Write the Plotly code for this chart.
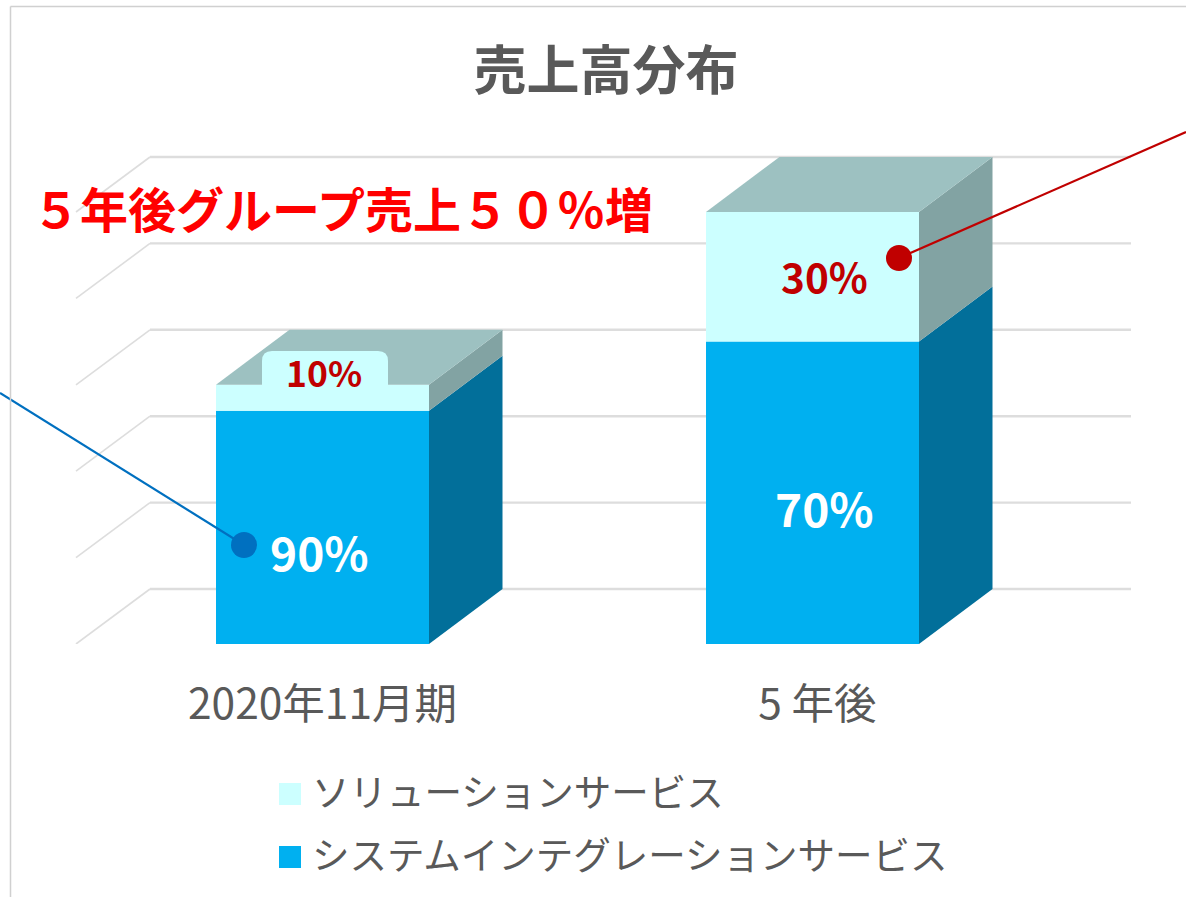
import plotly.graph_objects as go

# ---- data ----
categories = ["2020年11月期", "5 年後"]
tick_positions = [0, 1]
tick_label_positions = [0, 1.01]
series_names = ["システムインテグレーションサービス", "ソリューションサービス"]
system_values = [270, 350]
solution_values = [30, 150]
system_labels = ["90%", "70%"]
solution_labels = ["10%", "30%"]
grid_values = [0, 100, 200, 300, 400, 500]
title_text = "売上高分布"
headline_text = "５年後グループ売上５０％増"

# ---- geometry of the page ----
W, H = 1186, 897
BASE_PX = 644
PX_PER_UNIT = 0.864
PX_PER_CAT = 490
ZERO_X_PX = 322.5
BAR_W = 213 / PX_PER_CAT
DEPTH_X = 73.5 / PX_PER_CAT
DEPTH_Y = 55 / PX_PER_UNIT

def dx(px):
    return (px - ZERO_X_PX) / PX_PER_CAT

def dy(py):
    return (BASE_PX - py) / PX_PER_UNIT

def pxx(px):
    return px / W

def pxy(py):
    return 1 - py / BASE_PX

FONT = "Noto Sans CJK JP"
GREY = "#595959"
COL_SYS, COL_SYS_SIDE = "#00B0F0", "#026F9A"
COL_SOL, COL_SOL_SIDE, COL_SOL_TOP = "#CCFFFF", "#82A3A3", "#9DC1C1"
DARK_RED, BLUE_LINE = "#C00000", "#0070C0"
GRID = "#DDDDDD"

fig = go.Figure()

# front faces
fig.add_bar(x=tick_positions, y=system_values, width=BAR_W, name=series_names[0],
            marker=dict(color=COL_SYS, line_width=0), showlegend=False)
fig.add_bar(x=tick_positions, y=solution_values, base=system_values, width=BAR_W, name=series_names[1],
            marker=dict(color=COL_SOL, line_width=0), showlegend=False)

# side and top faces, derived from the same values
def poly(xs, ys, color):
    fig.add_scatter(x=xs, y=ys, mode="lines", fill="toself", fillcolor=color,
                    line=dict(width=0, color=color), hoverinfo="skip", showlegend=False)

for i, c in enumerate(tick_positions):
    r = c + BAR_W / 2
    l = c - BAR_W / 2
    s = system_values[i]
    t = s + solution_values[i]
    poly([r, r + DEPTH_X, r + DEPTH_X, r, r], [0, DEPTH_Y, s + DEPTH_Y, s, 0], COL_SYS_SIDE)
    poly([r, r + DEPTH_X, r + DEPTH_X, r, r], [s, s + DEPTH_Y, t + DEPTH_Y, t, s], COL_SOL_SIDE)
    poly([l, r, r + DEPTH_X, l + DEPTH_X, l], [t, t, t + DEPTH_Y, t + DEPTH_Y, t], COL_SOL_TOP)

# leader lines with dots
def leader(x_px, y_px, color):
    fig.add_scatter(x=[dx(v) for v in x_px], y=[dy(v) for v in y_px], mode="lines", cliponaxis=False,
                    line=dict(color=color, width=2.2), hoverinfo="skip", showlegend=False)
    fig.add_scatter(x=[dx(x_px[0])], y=[dy(y_px[0])], mode="markers", cliponaxis=False,
                    marker=dict(color=color, size=26, opacity=1, line_width=0),
                    hoverinfo="skip", showlegend=False)

leader([899, 1186], [258, 132], DARK_RED)
leader([244, 0], [545, 393], BLUE_LINE)

shapes = []
# floor-and-wall gridlines
GL, GM, GR = dx(76), dx(150), dx(1131)
for v in grid_values:
    shapes.append(dict(type="line", layer="below", xref="x", yref="y", x0=GL, x1=GM, y0=v, y1=v + DEPTH_Y,
                       line=dict(color=GRID, width=1.6)))
    shapes.append(dict(type="line", layer="below", xref="x", yref="y", x0=GM, x1=GR, y0=v + DEPTH_Y, y1=v + DEPTH_Y,
                       line=dict(color=GRID, width=2.4)))

# callout behind the 10% label
a, b, top, bot = dx(262), dx(388), dy(351), dy(386)
rx, ry = 10 / PX_PER_CAT, 10 / PX_PER_UNIT
shapes.append(dict(type="path", layer="above", xref="x", yref="y", line_width=0, fillcolor=COL_SOL,
                   path=f"M{a},{bot} L{a},{top-ry} Q{a},{top} {a+rx},{top} L{b-rx},{top} Q{b},{top} {b},{top-ry} L{b},{bot} Z"))

# chart frame
shapes.append(dict(type="line", xref="paper", yref="paper", x0=pxx(10.5), x1=pxx(10.5), y0=pxy(6.5), y1=pxy(897),
                   line=dict(color="#D0D0D0", width=1.5)))
shapes.append(dict(type="line", xref="paper", yref="paper", x0=pxx(10.5), x1=pxx(1186), y0=pxy(6.5), y1=pxy(6.5),
                   line=dict(color="#D0D0D0", width=1.5)))

# legend swatches
legend_rows = [(series_names[1], COL_SOL, 794), (series_names[0], COL_SYS, 857)]
annotations = []
for name, color, yc in legend_rows:
    shapes.append(dict(type="rect", xref="paper", yref="paper", line_width=0, fillcolor=color,
                       x0=pxx(279), x1=pxx(301), y0=pxy(yc + 11), y1=pxy(yc - 11)))
    annotations.append(dict(x=pxx(310), y=pxy(yc - 5), xref="paper", yref="paper", text=name, showarrow=False,
                            xanchor="left", yanchor="middle", font=dict(family=FONT, size=37.5, color=GREY)))

annotations.append(dict(x=pxx(342), y=pxy(207), xref="paper", yref="paper", text=headline_text, showarrow=False,
                        xanchor="center", yanchor="middle",
                        font=dict(family=FONT, size=48, color="#FF0000", weight="bold")))

# data labels
def label(px, py, text, size, color):
    annotations.append(dict(x=dx(px), y=dy(py), xref="x", yref="y", text=text, showarrow=False,
                            xanchor="center", yanchor="middle",
                            font=dict(family=FONT, size=size, color=color, weight="bold")))

label(319, 551, system_labels[0], 46, "#FFFFFF")
label(824.5, 507, system_labels[1], 46, "#FFFFFF")
label(324, 371, solution_labels[0], 35.5, DARK_RED)
label(824, 275, solution_labels[1], 40.5, DARK_RED)

fig.update_layout(
    width=W, height=H, margin=dict(l=0, r=0, t=0, b=H - BASE_PX, pad=0),
    paper_bgcolor="#FFFFFF", plot_bgcolor="rgba(0,0,0,0)",
    barmode="overlay", showlegend=False, shapes=shapes, annotations=annotations,
    title=dict(text=title_text, x=606 / W, y=1 - 71 / H, xanchor="center", yanchor="middle",
               font=dict(family=FONT, size=53, color=GREY, weight="bold")),
    xaxis=dict(range=[dx(0), dx(W)], tickmode="array", tickvals=tick_label_positions, ticktext=categories,
               ticks="", showgrid=False, zeroline=False, showline=False, ticklabelstandoff=31,
               tickfont=dict(family=FONT, size=42.5, color=GREY)),
    yaxis=dict(range=[0, dy(0)], showticklabels=False, ticks="", showgrid=False, zeroline=False, showline=False),
)

fig.write_html("out.html", config={"displayModeBar": False},
               post_script="document.body.style.margin='0';document.body.style.overflow='hidden';")
